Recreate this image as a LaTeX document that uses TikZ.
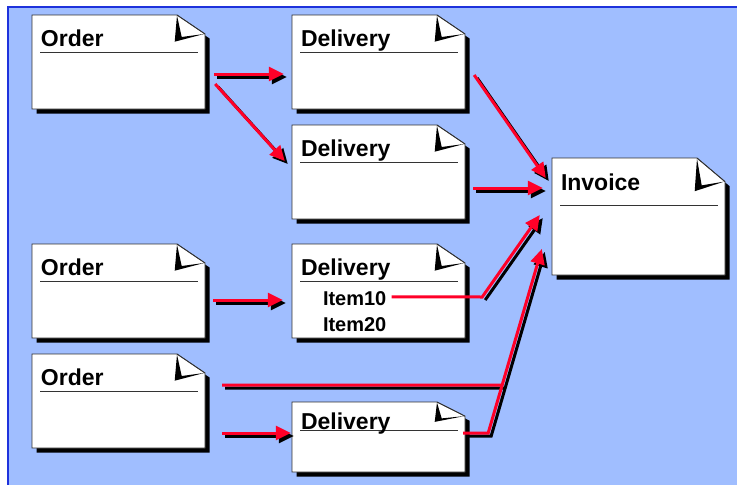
\documentclass[tikz,border=0pt]{standalone}
\usepackage{fontspec}
\setmainfont{Liberation Sans}
\usetikzlibrary{arrows.meta,calc,fit}

\definecolor{pagebg}{RGB}{160,190,255}
\definecolor{pageframe}{RGB}{30,50,220}
\definecolor{flowcol}{RGB}{255,0,40}
\definecolor{docedge}{RGB}{50,50,50}

\tikzset{
  x=1pt, y=-1pt,
  doctitle/.style={font=\bfseries\fontsize{23}{26}\selectfont, inner sep=0pt, anchor=base west},
  docitem/.style={font=\bfseries\fontsize{20}{23}\selectfont, inner sep=0pt, anchor=base west},
  flowshadow/.style={draw=black, line width=3pt, transform canvas={shift={(3,3)}}},
  redflow/.style={draw=flowcol, line width=3pt},
  headed/.style={-{Triangle[length=15pt,width=14pt]}},
}

% document symbol with folded corner: name, left, top, right, bottom
\newcommand\docbox[5]{%
  \pgfmathsetmacro\dh{#5-#3}%
  \pgfmathsetmacro\fa{0.202*\dh}%
  \pgfmathsetmacro\fb{0.284*\dh}%
  \pgfmathsetmacro\fc{0.234*\dh}%
  \pgfmathsetmacro\ul{0.404*\dh}%
  \fill[black] ({#2+4.5},{#3+4.5}) -- ({#4-23.5},{#3+4.5}) -- ({#4+4.5},{#3+\fa+4.5})
     -- ({#4+4.5},{#5+4.5}) -- ({#2+4.5},{#5+4.5}) -- cycle;
  \filldraw[fill=white, draw=docedge, line width=0.9pt]
     (#2,#3) -- ({#4-28},#3) -- (#4,{#3+\fa}) -- (#4,#5) -- (#2,#5) -- cycle;
  \fill[black] ({#4-28},{#3+0.5}) -- ({#4-30.3},{#3+\fb}) -- ({#4-1},{#3+\fa})
     -- ({#4-23.3},{#3+\fc}) -- cycle;
  \draw[docedge, line width=0.6pt] ({#4-28},#3) -- (#4,{#3+\fa});
  \draw[black!80, line width=1pt] ({#2+8},{#3+\ul}) -- ({#4-7},{#3+\ul});
  \path (#2,#3) coordinate (#1-nw) (#4,#5) coordinate (#1-se);
  \node[fit=(#1-nw)(#1-se), inner sep=0pt, draw=none] (#1) {};
}

% connector drawn twice: black drop shadow, then red line
\newcommand\flow[2][headed]{%
  \draw[flowshadow,#1] #2;
  \draw[redflow,#1] #2;
}

\begin{document}
\begin{tikzpicture}
\useasboundingbox (0,0) rectangle (737,485);
\fill[white] (0,0) rectangle (737,485);
\fill[pagebg] (8,7) rectangle (737,485);
\draw[pageframe, line width=1.5pt] (8,485) -- (8,7) -- (737,7);

% documents
\docbox{o1}{32}{15}{205}{109}
\docbox{d1}{292}{15}{465}{109}
\docbox{d2}{292}{125}{465}{219}
\docbox{inv}{552}{158}{725}{275}
\docbox{o2}{32}{244}{205}{338}
\docbox{d3}{292}{244}{465}{338}
\docbox{o3}{32}{354}{205}{448}
\docbox{d4}{292}{402}{465}{472}

% titles
\node[doctitle] (o1-t) at ($(o1.north west)+(9,32)$) {Order};
\node[doctitle] (d1-t) at ($(d1.north west)+(9,32)$) {Delivery};
\node[doctitle] (d2-t) at ($(d2.north west)+(9,32)$) {Delivery};
\node[doctitle] (inv-t) at ($(inv.north west)+(9,33)$) {Invoice};
\node[doctitle] (o2-t) at ($(o2.north west)+(9,32)$) {Order};
\node[doctitle] (d3-t) at ($(d3.north west)+(9,32)$) {Delivery};
\node[doctitle] (o3-t) at ($(o3.north west)+(9,32)$) {Order};
\node[doctitle] (d4-t) at ($(d4.north west)+(9,28)$) {Delivery};

% items of the partial delivery
\node[docitem] (i10) at ($(d3.north west)+(31,62)$) {Item10};
\node[docitem] (i20) at ($(d3.north west)+(31,88)$) {Item20};

% bend points and arrow ends at the invoice
\coordinate (k1) at ($(d3.east)+(17,6)$);
\coordinate (k2) at ($(d4.east)+(23,-4)$);
\coordinate (t3) at ($(inv.west)+(-12,-1.5)$);
\coordinate (t4) at ($(inv.west)+(-10,32.5)$);
\coordinate (jn) at ($(k2)!0.26!(t4)$);

% order -> delivery
\flow{($(o1.east)+(9,12)$) -- ($(d1.west)+(-8,12)$)}
\flow{($(o1.east)+(10,22)$) -- ($(d2.west)+(-7,-11)$)}
\flow{($(o2.east)+(8,9)$) -- ($(d3.west)+(-9,9)$)}
\flow{($(o3.east)+(17,32)$) -- ($(d4.west)+(-1,-4)$)}

% delivery -> invoice
\flow{($(d1.east)+(9,13)$) -- ($(inv.west)+(-6,-38.5)$)}
\flow{($(d2.east)+(8,16)$) -- ($(inv.west)+(-9,-28.5)$)}
\draw[flowshadow,headed] (k1) -- (t3);
\draw[redflow,headed] ($(i10.base east)+(5,-9)$) -- (k1) -- (t3);
\flow[]{($(o3.east)+(17,-16)$) -- (jn)}
\flow{($(d4.east)+(-2,-4)$) -- (k2) -- (t4)}
\end{tikzpicture}
\end{document}
